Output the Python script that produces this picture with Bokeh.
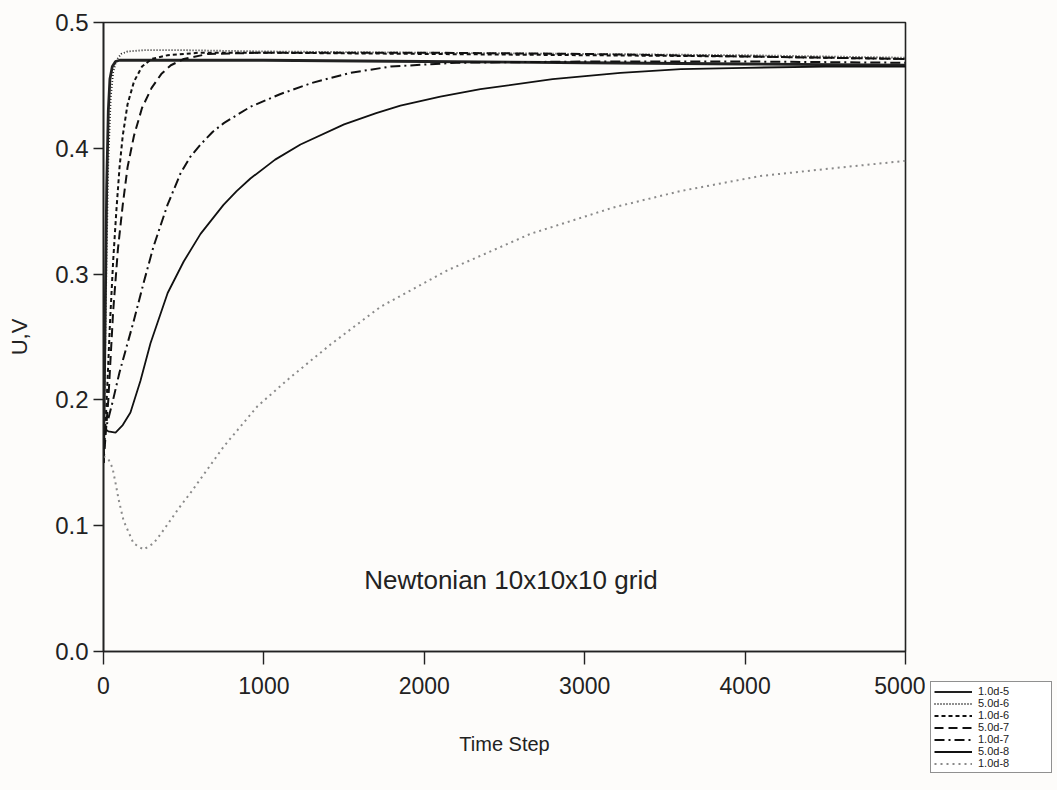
from bokeh.plotting import figure
from bokeh.models import Legend, LegendItem, Label, FixedTicker, PrintfTickFormatter, Range1d, Spacer
from bokeh.layouts import row, column
from bokeh.embed import file_html
from bokeh.resources import INLINE

# ---- data ----
x_ticks = [0, 1000, 2000, 3000, 4000, 5000]
y_ticks = [0.0, 0.1, 0.2, 0.3, 0.4, 0.5]

labels = ["1.0d-5", "5.0d-6", "1.0d-6", "5.0d-7", "1.0d-7", "5.0d-8", "1.0d-8"]

x_1e5 = [0, 10, 20, 30, 40, 55, 75, 100, 150, 300, 1000, 2000, 3000, 4000, 5000]
y_1e5 = [0.15, 0.26, 0.37, 0.43, 0.455, 0.465, 0.469, 0.470, 0.470, 0.470, 0.470, 0.469, 0.468, 0.467, 0.466]

x_5e6 = [0, 15, 30, 45, 60, 80, 110, 150, 250, 500, 1000, 2000, 3000, 4000, 5000]
y_5e6 = [0.15, 0.28, 0.39, 0.44, 0.46, 0.47, 0.475, 0.477, 0.478, 0.478, 0.477, 0.476, 0.475, 0.474, 0.472]

x_1e6 = [0, 20, 40, 60, 80, 100, 120, 150, 190, 240, 300, 400, 600, 1000, 2000, 3000, 4000, 5000]
y_1e6 = [0.15, 0.2, 0.26, 0.31, 0.35, 0.385, 0.41, 0.435, 0.453, 0.465, 0.471, 0.474, 0.476, 0.476, 0.475, 0.474, 0.473, 0.471]

x_5e7 = [0, 30, 60, 90, 120, 150, 190, 240, 300, 360, 420, 500, 650, 1000, 2000, 3000, 4000, 5000]
y_5e7 = [0.15, 0.2, 0.27, 0.32, 0.355, 0.385, 0.41, 0.432, 0.448, 0.459, 0.466, 0.471, 0.475, 0.476, 0.476, 0.475, 0.473, 0.471]

x_1e7 = [0, 20, 56, 100, 150, 187, 250, 312, 399, 480, 540, 605, 680, 750, 916, 1100, 1300, 1540, 1790, 2200, 3000, 4000, 5000]
y_1e7 = [0.17, 0.18, 0.198, 0.222, 0.245, 0.262, 0.293, 0.322, 0.355, 0.38, 0.393, 0.403, 0.413, 0.42, 0.433, 0.443, 0.452, 0.46, 0.465, 0.468, 0.469, 0.469, 0.468]

x_5e8 = [0, 30, 75, 120, 168, 230, 293, 400, 500, 605, 748, 830, 916, 1070, 1228, 1500, 1700, 1851, 2100, 2350, 2800, 3223, 3600, 4000, 4500, 5000]
y_5e8 = [0.178, 0.175, 0.174, 0.18, 0.19, 0.215, 0.245, 0.285, 0.31, 0.332, 0.355, 0.366, 0.376, 0.391, 0.403, 0.419, 0.428, 0.434, 0.441, 0.447, 0.455, 0.46, 0.463, 0.464, 0.465, 0.465]

x_1e8 = [0, 30, 56, 75, 94, 125, 187, 250, 312, 360, 399, 470, 542, 750, 960, 1166, 1415, 1727, 2144, 2662, 3180, 3597, 4096, 4613, 5000]
y_1e8 = [0.155, 0.153, 0.146, 0.134, 0.121, 0.104, 0.086, 0.081, 0.086, 0.094, 0.101, 0.114, 0.126, 0.163, 0.195, 0.218, 0.244, 0.274, 0.303, 0.332, 0.353, 0.366, 0.378, 0.385, 0.39]

FONT = "Liberation Sans"
INK = "#222222"
BG = "#fdfcfa"

# (x, y, colour, width, dash) per series
series = [
    (x_1e5, y_1e5, INK, 2.8, "solid"),
    (x_5e6, y_5e6, INK, 1.8, "1 2"),
    (x_1e6, y_1e6, "#111111", 2.0, "4 3"),
    (x_5e7, y_5e7, "#111111", 2.0, "9 5"),
    (x_1e7, y_1e7, "#111111", 2.0, "10 4 2 4"),
    (x_5e8, y_5e8, "#111111", 1.8, "solid"),
    (x_1e8, y_1e8, "#8a8a8a", 2.0, "2 4"),
]

p = figure(width=925, height=790, output_backend="svg", toolbar_location=None,
           x_range=Range1d(0, 5000), y_range=Range1d(0, 0.5),
           min_border_left=103, min_border_right=20, min_border_top=22, min_border_bottom=139)
p.background_fill_color = BG
p.border_fill_color = BG
p.grid.visible = False
p.outline_line_color = INK
p.outline_line_width = 1.6

for ax in (p.xaxis[0], p.yaxis[0]):
    ax.axis_line_color = INK
    ax.axis_line_width = 1.6
    ax.major_tick_line_color = INK
    ax.major_tick_line_width = 1.4
    ax.minor_tick_line_color = None
    ax.major_tick_in = 0
    ax.major_label_text_font = FONT
    ax.major_label_text_color = INK
    ax.axis_label_text_font = FONT
    ax.axis_label_text_font_style = "normal"
    ax.axis_label_text_color = INK

p.xaxis.ticker = FixedTicker(ticks=x_ticks)
p.yaxis.ticker = FixedTicker(ticks=y_ticks)
p.yaxis.formatter = PrintfTickFormatter(format="%.1f")
p.xaxis.major_tick_out = 13
p.yaxis.major_tick_out = 10
p.xaxis.major_label_text_font_size = "23px"
p.yaxis.major_label_text_font_size = "24px"
p.xaxis.major_label_standoff = 12
p.yaxis.major_label_standoff = 5
p.xaxis.axis_label = "Time Step"
p.yaxis.axis_label = "U,V"
p.xaxis.axis_label_text_font_size = "20px"
p.yaxis.axis_label_text_font_size = "22px"
p.xaxis.axis_label_standoff = 36
p.yaxis.axis_label_standoff = 20

for xs, ys, c, w, d in series:
    p.line(xs, ys, line_color=c, line_width=w, line_dash=d)

p.add_layout(Label(x=2540, y=0.057, text="Newtonian 10x10x10 grid", text_font=FONT,
                   text_font_size="26px", text_color=INK, text_align="center",
                   text_baseline="middle"))

# ---- legend panel: a small separate figure placed below-right of the plot ----
# its view range lies outside the data, so only the legend itself shows.
pl = figure(width=128, height=100, output_backend="svg", toolbar_location=None,
            x_range=Range1d(-3, -2), y_range=Range1d(-3, -2),
            x_axis_location=None, y_axis_location=None, min_border=0)
pl.grid.visible = False
pl.outline_line_color = None
pl.background_fill_color = BG
pl.border_fill_color = BG
leg_renderers = [pl.line(xs, ys, line_color=c, line_width=min(w, 2.0), line_dash=d)
                 for xs, ys, c, w, d in series]
legend = Legend(items=[LegendItem(label=l, renderers=[r]) for l, r in zip(labels, leg_renderers)],
                location="top_left", orientation="vertical",
                label_text_font=FONT, label_text_font_size="11px", label_text_color=INK,
                glyph_width=38, glyph_height=11, label_height=11, label_width=70,
                spacing=0, padding=3, margin=1, label_standoff=6,
                border_line_color=INK, border_line_width=1.2,
                background_fill_color="#ffffff", background_fill_alpha=1.0)
pl.add_layout(legend, "center")

layout = row(p, column(Spacer(width=1, height=680),
                       row(Spacer(width=4, height=1), pl), spacing=0), spacing=0)
layout.styles = {"background-color": BG}

open("out.html", "w").write(file_html(layout, INLINE))
